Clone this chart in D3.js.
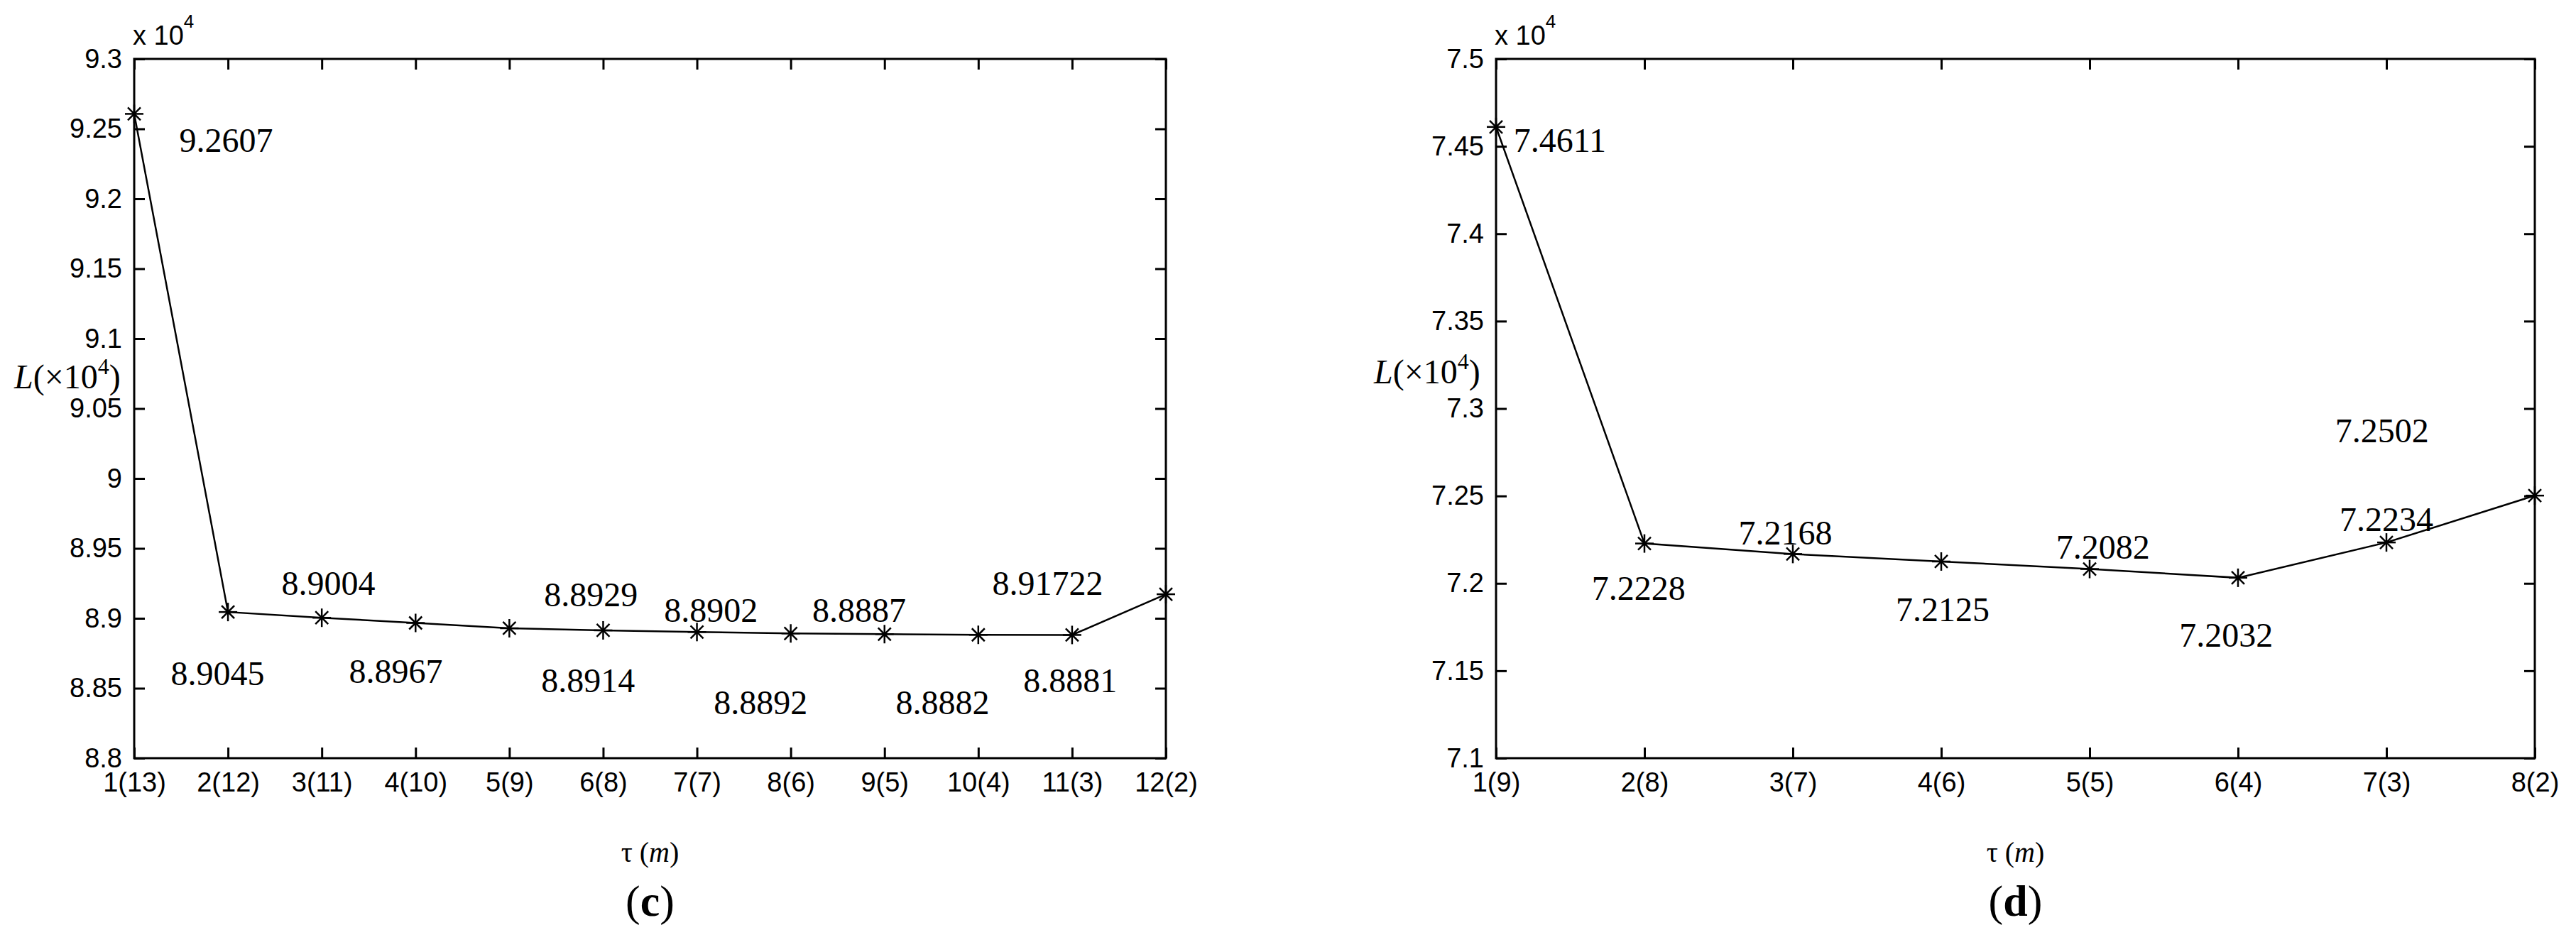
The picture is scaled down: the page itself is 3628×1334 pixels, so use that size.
<!DOCTYPE html>
<html><head><meta charset="utf-8">
<script src="https://cdn.jsdelivr.net/npm/d3@7"></script>
<style>body{margin:0;background:#fff} svg{display:block}</style>
</head><body>
<svg id="chart" width="3628" height="1334"></svg>
<script>
// ---------- data: panel (c) ----------
const catsC = ["1(13)","2(12)","3(11)","4(10)","5(9)","6(8)","7(7)","8(6)","9(5)","10(4)","11(3)","12(2)"];
const valsC = [9.2607, 8.9045, 8.9004, 8.8967, 8.8929, 8.8914, 8.8902, 8.8892, 8.8887, 8.8882, 8.8881, 8.91722];
const textC = ["9.2607","8.9045","8.9004","8.8967","8.8929","8.8914","8.8902","8.8892","8.8887","8.8882","8.8881","8.91722"];
const yTicksC = [8.8, 8.85, 8.9, 8.95, 9, 9.05, 9.1, 9.15, 9.2, 9.25, 9.3];
const yTickTextC = ["8.8","8.85","8.9","8.95","9","9.05","9.1","9.15","9.2","9.25","9.3"];
// text() anchors in data units (category index, value), as placed in the original figure
const annotXC = [1.98, 1.89, 3.07, 3.79, 5.87, 5.84, 7.15, 7.68, 8.73, 9.62, 10.98, 10.74];
const annotYC = [9.2421, 8.8609, 8.9249, 8.8624, 8.9168, 8.8558, 8.9056, 8.8396, 8.9056, 8.8396, 8.8558, 8.9249];

// ---------- data: panel (d) ----------
const catsD = ["1(9)","2(8)","3(7)","4(6)","5(5)","6(4)","7(3)","8(2)"];
const valsD = [7.4611, 7.2228, 7.2168, 7.2125, 7.2082, 7.2032, 7.2234, 7.2502];
const textD = ["7.4611","7.2228","7.2168","7.2125","7.2082","7.2032","7.2234","7.2502"];
const yTicksD = [7.1, 7.15, 7.2, 7.25, 7.3, 7.35, 7.4, 7.45, 7.5];
const yTickTextD = ["7.1","7.15","7.2","7.25","7.3","7.35","7.4","7.45","7.5"];
const annotXD = [1.43, 1.96, 2.95, 4.01, 5.09, 5.92, 7.0, 6.97];
const annotYD = [7.4533, 7.1972, 7.2289, 7.1850, 7.2207, 7.1703, 7.2366, 7.2874];

const svg = d3.select("#chart");
const TICK_FONT = "'Liberation Sans', Arial, sans-serif";
const SERIF = "'Liberation Serif', 'Times New Roman', serif";

function panel(cfg) {
  const {cats, vals, texts, yTicks, yTickText, ax, ay, left, right, top, bottom, yLabelX, yLabelY, panelTag} = cfg;
  const n = cats.length;
  const x = d3.scaleLinear().domain([1, n]).range([left, right]);
  const y = d3.scaleLinear().domain([yTicks[0], yTicks[yTicks.length-1]]).range([bottom, top]);
  const idx = d3.range(1, n + 1);
  const g = svg.append("g");

  const styleAxis = sel => {
    sel.select(".domain").remove();
    sel.selectAll(".tick line").attr("stroke", "#000").attr("stroke-width", 3);
    sel.selectAll(".tick text").attr("fill", "#000")
      .style("font-family", TICK_FONT).style("font-size", "38px");
  };

  g.append("g").attr("transform", `translate(0,${bottom})`)
    .call(d3.axisBottom(x).tickValues(idx).tickFormat(i => cats[i-1]).tickSizeInner(-15).tickSizeOuter(0).tickPadding(20))
    .call(styleAxis);
  g.append("g").attr("transform", `translate(0,${top})`)
    .call(d3.axisTop(x).tickValues(idx).tickFormat("").tickSizeInner(-15).tickSizeOuter(0))
    .call(styleAxis);
  g.append("g").attr("transform", `translate(${left},0)`)
    .call(d3.axisLeft(y).tickValues(yTicks).tickFormat((d, i) => yTickText[i]).tickSizeInner(-15).tickSizeOuter(0).tickPadding(17))
    .call(styleAxis);
  g.append("g").attr("transform", `translate(${right},0)`)
    .call(d3.axisRight(y).tickValues(yTicks).tickFormat("").tickSizeInner(-15).tickSizeOuter(0))
    .call(styleAxis);

  // box
  g.append("rect").attr("x", left).attr("y", top).attr("width", right - left).attr("height", bottom - top)
    .attr("fill", "none").attr("stroke", "#000").attr("stroke-width", 3);

  // exponent "x 10^4"
  const ex = g.append("text").attr("x", left - 2).attr("y", top - 20)
    .style("font-family", TICK_FONT).style("font-size", "38px").attr("fill", "#000");
  ex.append("tspan").text("x 10");
  ex.append("tspan").attr("dy", -24).style("font-size", "26px").text("4");

  // line
  const line = d3.line().x((d, i) => x(i + 1)).y(d => y(d));
  g.append("path").datum(vals).attr("d", line).attr("fill", "none")
    .attr("stroke", "#000").attr("stroke-width", 2.5);

  // star markers
  const m = g.selectAll(".mk").data(vals).join("g")
    .attr("transform", (d, i) => `translate(${x(i + 1)},${y(d)})`)
    .attr("stroke", "#000").attr("stroke-width", 2.5);
  m.append("line").attr("x1", -13).attr("x2", 13).attr("y1", 0).attr("y2", 0);
  m.append("line").attr("x1", 0).attr("x2", 0).attr("y1", -13).attr("y2", 13);
  m.append("line").attr("x1", -9).attr("x2", 9).attr("y1", -9).attr("y2", 9);
  m.append("line").attr("x1", -9).attr("x2", 9).attr("y1", 9).attr("y2", -9);

  // value annotations
  g.selectAll(".ann").data(texts).join("text")
    .attr("x", (d, i) => x(ax[i])).attr("y", (d, i) => y(ay[i]))
    .attr("text-anchor", "middle").attr("dominant-baseline", "central")
    .style("font-family", SERIF).style("font-size", "48px").attr("fill", "#000")
    .text(d => d);

  // y label L(x10^4)
  const yl = g.append("text").attr("x", yLabelX).attr("y", yLabelY)
    .style("font-family", SERIF).style("font-size", "48px").attr("fill", "#000");
  yl.append("tspan").style("font-style", "italic").text("L");
  yl.append("tspan").text("(\u00d710");
  yl.append("tspan").attr("dy", -20).style("font-size", "32px").text("4");
  yl.append("tspan").attr("dy", 20).text(")");

  // x label tau (m)
  const cx = (left + right) / 2;
  const xl = g.append("text").attr("x", cx).attr("y", 1214).attr("text-anchor", "middle")
    .style("font-family", SERIF).style("font-size", "40px").attr("fill", "#000");
  xl.append("tspan").text("\u03c4 (");
  xl.append("tspan").style("font-style", "italic").text("m");
  xl.append("tspan").text(")");

  // panel tag
  const pt = g.append("text").attr("x", cx).attr("y", 1290).attr("text-anchor", "middle")
    .style("font-family", SERIF).style("font-size", "62px").attr("fill", "#000");
  pt.append("tspan").text("(");
  pt.append("tspan").style("font-weight", "bold").text(panelTag);
  pt.append("tspan").text(")");
}

panel({cats: catsC, vals: valsC, texts: textC, yTicks: yTicksC, yTickText: yTickTextC,
  ax: annotXC, ay: annotYC, left: 189, right: 1642, top: 83, bottom: 1068,
  yLabelX: 20, yLabelY: 547, panelTag: "c"});
panel({cats: catsD, vals: valsD, texts: textD, yTicks: yTicksD, yTickText: yTickTextD,
  ax: annotXD, ay: annotYD, left: 2107, right: 3570, top: 83, bottom: 1068,
  yLabelX: 1935, yLabelY: 540, panelTag: "d"});
</script>
</body></html>
